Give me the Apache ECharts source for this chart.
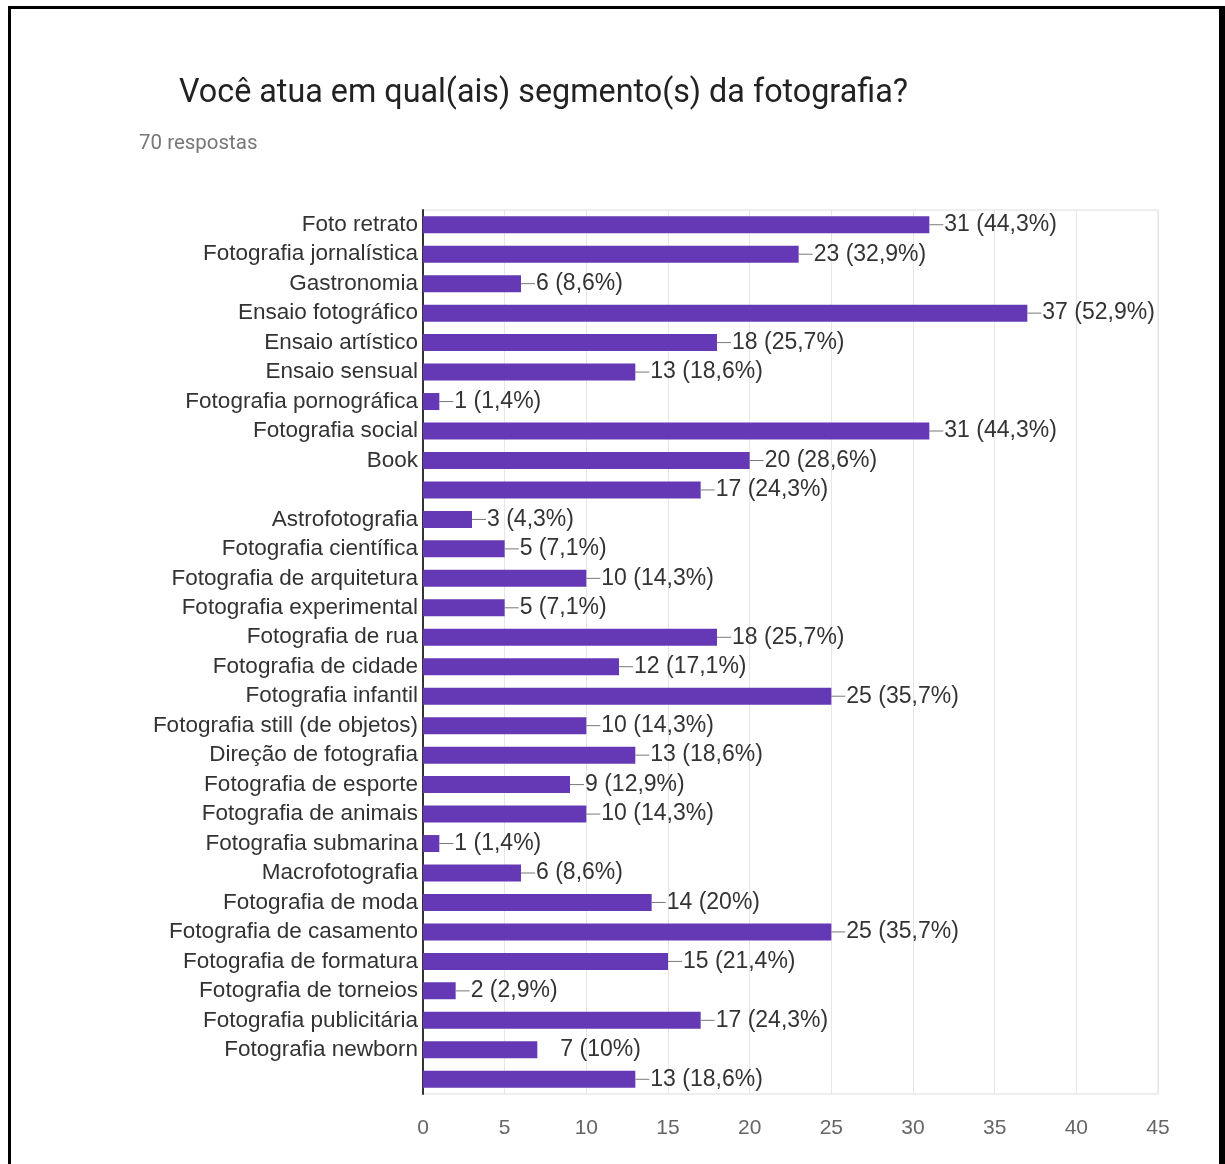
<!DOCTYPE html>
<html>
<head>
<meta charset="utf-8">
<script src="https://cdn.jsdelivr.net/npm/echarts@6/dist/echarts.min.js"></script>
<style>
  html, body { margin: 0; padding: 0; background: #fff; }
  #main { width: 1225px; height: 1164px; }
  #frame {
    position: absolute; left: 8px; top: 6px; width: 1217px; height: 1170px;
    border: 3px solid #000; border-right-width: 6px;
    box-sizing: border-box; pointer-events: none;
  }
</style>
</head>
<body>
<div id="main"></div>
<div id="frame"></div>
<script>
const titleText = "Você atua em qual(ais) segmento(s) da fotografia?";
const subtitleText = "70 respostas";
const totalResponses = 70;

const categories = [
  "Foto retrato",
  "Fotografia jornalística",
  "Gastronomia",
  "Ensaio fotográfico",
  "Ensaio artístico",
  "Ensaio sensual",
  "Fotografia pornográfica",
  "Fotografia social",
  "Book",
  "",
  "Astrofotografia",
  "Fotografia científica",
  "Fotografia de arquitetura",
  "Fotografia experimental",
  "Fotografia de rua",
  "Fotografia de cidade",
  "Fotografia infantil",
  "Fotografia still (de objetos)",
  "Direção de fotografia",
  "Fotografia de esporte",
  "Fotografia de animais",
  "Fotografia submarina",
  "Macrofotografia",
  "Fotografia de moda",
  "Fotografia de casamento",
  "Fotografia de formatura",
  "Fotografia de torneios",
  "Fotografia publicitária",
  "Fotografia newborn",
  " ",
];

const counts = [
  31, 23, 6, 37, 18, 13, 1, 31, 20, 17,
  3, 5, 10, 5, 18, 12, 25, 10, 13, 9,
  10, 1, 6, 14, 25, 15, 2, 17, 7, 13,
];

// the newborn row has a gap instead of the little leader line
const noLeader = ["Fotografia newborn"];

const xTicks = [0, 5, 10, 15, 20, 25, 30, 35, 40, 45];

const pct = (v) => {
  const p = Math.round((v / totalResponses) * 1000) / 10;
  return String(p).replace(".", ",") + "%";
};

const chart = echarts.init(document.getElementById("main"));

const option = {
  animation: false,
  title: [
    {
      text: titleText,
      left: 174,
      top: 73,
      textStyle: {
        fontFamily: "Roboto",
        fontSize: 32.3,
        fontWeight: "normal",
        color: "#222",
      },
    },
    {
      text: subtitleText,
      left: 134,
      top: 128,
      textStyle: {
        fontFamily: "Roboto",
        fontSize: 20.5,
        fontWeight: "normal",
        color: "#777",
      },
    },
  ],
  grid: {
    left: 423,
    right: 67,
    top: 210,
    bottom: 70,
    show: true,
    borderColor: "#eee",
    borderWidth: 2,
  },
  xAxis: {
    type: "value",
    min: 0,
    max: xTicks[xTicks.length - 1],
    interval: 5,
    axisLine: { show: false },
    axisTick: { show: false },
    axisLabel: {
      margin: 24,
      fontFamily: "Liberation Sans",
      fontSize: 21,
      color: "#666",
    },
    splitLine: { lineStyle: { color: "#e6e6e6", width: 1 } },
  },
  yAxis: {
    type: "category",
    inverse: true,
    data: categories,
    axisTick: { show: false },
    axisLine: { show: true, lineStyle: { color: "#333", width: 2 } },
    axisLabel: {
      interval: 0,
      margin: 5,
      fontFamily: "Liberation Sans",
      fontSize: 22.5,
      color: "#333",
    },
  },
  series: [
    {
      type: "bar",
      barWidth: 17,
      itemStyle: { color: "#6539b6" },
      data: counts.map((v, i) => ({
        value: v,
        name: categories[i],
        label: noLeader.includes(categories[i])
          ? { formatter: "{gap|}{t|" + v + " (" + pct(v) + ")}" }
          : undefined,
      })),
      label: {
        show: true,
        position: "right",
        distance: 0,
        formatter: (p) => "{l|}{t|" + p.value + " (" + pct(p.value) + ")}",
        rich: {
          l: { width: 14, height: 1, backgroundColor: "#777" },
          gap: { width: 22, height: 1 },
          t: {
            fontFamily: "Liberation Sans",
            fontSize: 23,
            color: "#333",
            padding: [0, 0, 0, 1],
          },
        },
      },
    },
  ],
};

chart.setOption(option);
</script>
</body>
</html>
